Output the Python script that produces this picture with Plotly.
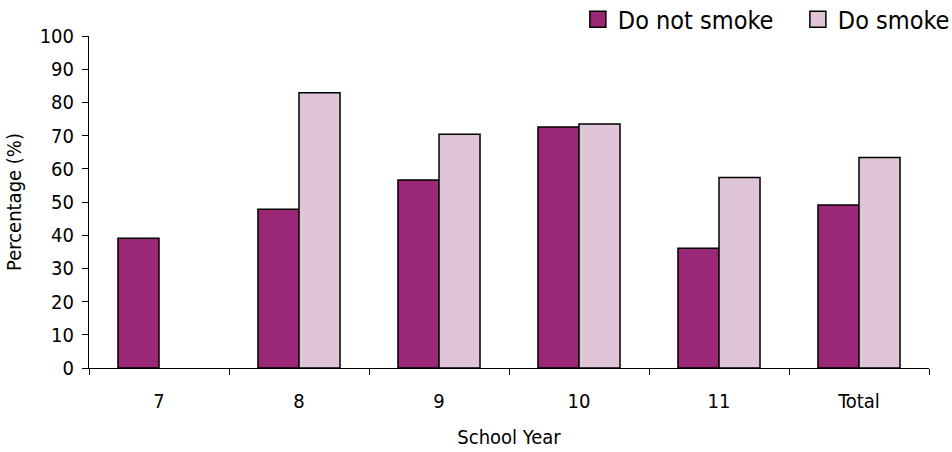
import plotly.graph_objects as go

years = ["7", "8", "9", "10", "11", "Total"]
do_not_smoke = [39.1, 47.8, 56.6, 72.6, 36.1, 49.1]
do_smoke = [None, 82.9, 70.4, 73.5, 57.4, 63.4]

series_names = ["Do not smoke", "Do smoke"]
series_colors = ["#9B2777", "#E0C4D8"]

font_family = "DejaVu Sans Condensed, Liberation Sans Narrow, sans-serif"

fig = go.Figure()
for name, values, color in zip(series_names, [do_not_smoke, do_smoke], series_colors):
    fig.add_trace(go.Bar(
        x=years, y=values, name=name, showlegend=False,
        marker=dict(color=color, line=dict(color="black", width=1.5)),
    ))

# legend entries with larger square swatches
for name, color in zip(series_names, series_colors):
    fig.add_trace(go.Scatter(
        x=[None], y=[None], mode="markers", name=name,
        marker=dict(symbol="square", size=16, color=color,
                    line=dict(color="black", width=1.5)),
    ))

fig.update_layout(
    width=952, height=452,
    margin=dict(l=89, r=23, t=36, b=84, autoexpand=False),
    paper_bgcolor="white", plot_bgcolor="white",
    barmode="group", bargap=0.414, bargroupgap=0,
    font=dict(family=font_family, color="black", size=20),
    legend=dict(
        orientation="h", xref="container", yref="container",
        x=0.607, y=0.957, xanchor="left", yanchor="middle",
        font=dict(size=25), traceorder="normal",
        bgcolor="rgba(0,0,0,0)", itemwidth=30, entrywidth=175,
    ),
    xaxis=dict(
        showline=True, linecolor="black", linewidth=1,
        ticks="outside", ticklen=6, tickcolor="black", tickson="boundaries",
        ticklabelstandoff=15,
        title=dict(text="School Year", font=dict(size=20), standoff=17),
        tickfont=dict(size=20),
    ),
    yaxis=dict(
        range=[0, 100], dtick=10,
        showline=True, linecolor="black", linewidth=1,
        ticks="outside", ticklen=6, tickcolor="black",
        ticklabelstandoff=4,
        showgrid=False, zeroline=False,
        title=dict(text="Percentage (%)", font=dict(size=20), standoff=12),
        tickfont=dict(size=20),
    ),
)

fig.write_html("out.html")
